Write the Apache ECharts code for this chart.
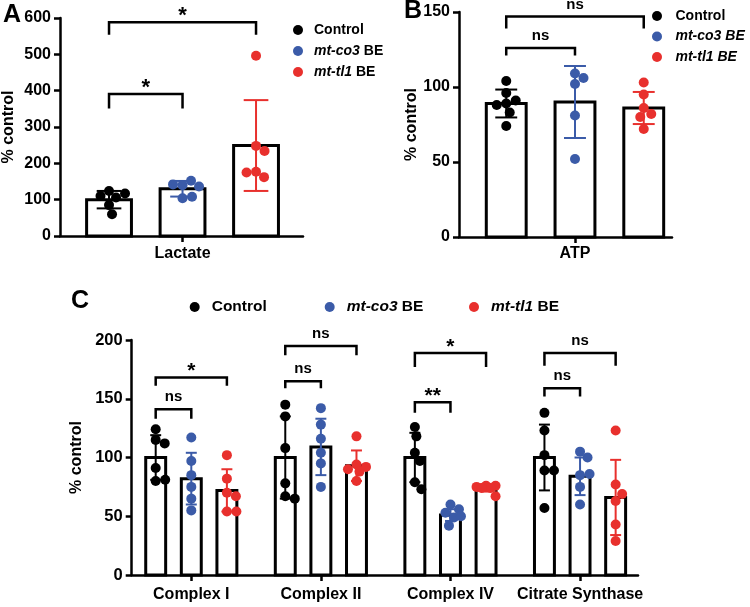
<!DOCTYPE html>
<html>
<head>
<meta charset="utf-8">
<script src="https://cdn.jsdelivr.net/npm/echarts@6/dist/echarts.min.js"></script>
<style>html,body{margin:0;padding:0;background:#fff;}#chart{width:750px;height:607px;}</style>
</head>
<body>
<div id="chart"></div>
<script>
// ---------------- data ----------------
const groupNames = ['Control', 'mt-co3 BE', 'mt-tl1 BE'];

// Panel A
const lactateCategories = ['Lactate'];
const lactateMeans = [[100], [130], [249]];
const lactateSD = [[24], [21.5], [125]];
const lactatePoints = [
  [[124, 106, 110, 117, 85, 60]],
  [[140, 152, 142, 136, 104, 108]],
  [[248, 234, 177, 162, 175, 496]]
];
// [categoryIndex, fromGroup, toGroup, top, bottom, label]
const lactateBrackets = [[0, 0, 2, 588, 554, '*'], [0, 0, 1, 391, 351, '*']];
const lactateTicks = [0, 100, 200, 300, 400, 500, 600];

// Panel B
const atpCategories = ['ATP'];
const atpMeans = [[89], [90], [86]];
const atpSD = [[9.3], [24], [10.7]];
const atpPoints = [
  [[104, 96, 89, 91, 88, 83, 74]],
  [[109, 106, 102, 81, 52]],
  [[103, 95, 86, 82, 80, 72]]
];
const atpBrackets = [[0, 0, 2, 147, 139, 'ns'], [0, 0, 1, 126, 121, 'ns']];
const atpTicks = [0, 50, 100, 150];

// Panel C
const enzymeCategories = ['Complex I', 'Complex II', 'Complex IV', 'Citrate Synthase'];
const enzymeMeans = [[100, 100, 100, 100], [82, 109, 51, 84], [72, 93, 74, 66]];
const enzymeSD = [[19, 35, 21, 28], [22, 24, 5, 16], [18, 13, 3, 32]];
const enzymePoints = [
  [[124, 115, 112, 91, 80, 81], [145, 135, 108, 78, 67, 65], [126, 118, 104, 97, 79, 73], [138, 123, 102, 89, 89, 57]],
  [[117, 97, 85, 75, 65, 55], [142, 128, 116, 104, 95, 75], [60, 56, 53, 49, 50, 42], [105, 100, 85, 86, 75, 60]],
  [[102, 82, 70, 67, 54, 54], [118, 94, 92, 90, 88, 80], [76, 76, 75, 74, 74, 67], [123, 77, 63, 69, 43, 29]]
];
const enzymeBrackets = [
  [0, 0, 1, 141, 133, 'ns'], [0, 0, 2, 168, 161, '*'],
  [1, 0, 1, 165, 159, 'ns'], [1, 0, 2, 195, 187, 'ns'],
  [2, 0, 1, 147, 138, '**'], [2, 0, 2, 189, 177, '*'],
  [3, 0, 1, 159, 152, 'ns'], [3, 0, 2, 189, 178, 'ns']
];
const enzymeTicks = [0, 50, 100, 150, 200];

// ---------------- styling / layout ----------------
const FONT = '"Liberation Sans", Arial, Helvetica, sans-serif';
const COLORS = ['#000000', '#3b5ba8', '#e8302d'];

const panels = [
  { cats: lactateCategories, means: lactateMeans, sd: lactateSD, pts: lactatePoints, brackets: lactateBrackets, ticks: lactateTicks,
    grid: { left: 60, top: 18, width: 243, height: 218 }, xMin: -1.667, xMax: 1.639, catSpacing: 1, barW: 0.61,
    tickFont: 16, nameGap: 43, labelMargin: 10, starSize: 22 },
  { cats: atpCategories, means: atpMeans, sd: atpSD, pts: atpPoints, brackets: atpBrackets, ticks: atpTicks,
    grid: { left: 459, top: 12, width: 213, height: 225 }, xMin: -1.687, xMax: 1.411, catSpacing: 1, barW: 0.58,
    tickFont: 16, nameGap: 37, labelMargin: 9, starSize: 22 },
  { cats: enzymeCategories, means: enzymeMeans, sd: enzymeSD, pts: enzymePoints, brackets: enzymeBrackets, ticks: enzymeTicks,
    grid: { left: 131.7, top: 340, width: 506.3, height: 235 }, xMin: -1.674, xMax: 12.548, catSpacing: 3.64, barW: 0.56,
    tickFont: 16.5, nameGap: 46, labelMargin: 12, starSize: 21 }
];

const R = 5;

function swarm(ys, r, maxOff) {
  const minD = 2 * r * 0.95;
  const placed = [];
  return ys.map(function (y) {
    let best = 0, bestScore = -1;
    for (let d = 0; d <= maxOff; d += 0.5) {
      const cands = d === 0 ? [0] : [d, -d];
      for (const s of cands) {
        let mind = Infinity;
        for (const p of placed) {
          const dd = Math.hypot(p[0] - s, p[1] - y);
          if (dd < mind) mind = dd;
        }
        if (mind >= minD) { placed.push([s, y]); return s; }
        if (mind > bestScore) { bestScore = mind; best = s; }
      }
    }
    placed.push([best, y]);
    return best;
  });
}

const grids = [], xAxes = [], yAxes = [], series = [];

panels.forEach(function (P, pi) {
  grids.push(Object.assign({ containLabel: false }, P.grid));
  const centers = P.cats.map(function (c, ci) { return ci * P.catSpacing; });
  xAxes.push({
    type: 'value', gridIndex: pi, min: P.xMin, max: P.xMax,
    axisLine: { show: true, onZero: false, lineStyle: { color: '#000', width: 2.5 } },
    axisTick: { show: true, customValues: centers, length: 6, lineStyle: { color: '#000', width: 2.5 } },
    axisLabel: {
      show: true, customValues: centers, margin: P.labelMargin, color: '#000',
      fontWeight: 'bold', fontSize: 16, fontFamily: FONT,
      formatter: function (v) { return P.cats[Math.round(v / P.catSpacing)]; }
    },
    splitLine: { show: false }
  });
  const yMax = P.ticks[P.ticks.length - 1];
  yAxes.push({
    type: 'value', gridIndex: pi, min: P.ticks[0], max: yMax, interval: P.ticks[1] - P.ticks[0],
    axisLine: { show: true, onZero: false, lineStyle: { color: '#000', width: 2.5 } },
    axisTick: { show: true, length: 6, lineStyle: { color: '#000', width: 2.5 } },
    axisLabel: { color: '#000', fontWeight: 'bold', fontSize: P.tickFont, fontFamily: FONT, margin: 9 },
    splitLine: { show: false },
    name: '% control', nameLocation: 'middle', nameGap: P.nameGap,
    nameTextStyle: { color: '#000', fontWeight: 'bold', fontSize: 16, fontFamily: FONT }
  });

  groupNames.forEach(function (gName, gi) {
    const data = P.cats.map(function (c, ci) {
      return [centers[ci] + (gi - 1), P.means[gi][ci], P.sd[gi][ci]];
    });
    // bars + error bars
    series.push({
      type: 'custom', name: gName, xAxisIndex: pi, yAxisIndex: pi, z: 2,
      itemStyle: { color: COLORS[gi] }, data: data, clip: false,
      renderItem: function (params, api) {
        const x = api.value(0), m = api.value(1), s = api.value(2);
        const tl = api.coord([x - P.barW / 2, m]);
        const br = api.coord([x + P.barW / 2, 0]);
        const c = api.coord([x, m]);
        const top = api.coord([x, m + s]);
        const bot = api.coord([x, Math.max(0, m - s)]);
        const capHalf = api.size([P.barW * 0.55, 0])[0] / 2;
        return {
          type: 'group', children: [
            { type: 'rect', shape: { x: tl[0], y: tl[1], width: br[0] - tl[0], height: br[1] - tl[1] },
              style: { fill: '#fff', stroke: '#000', lineWidth: 3 } },
            { type: 'line', shape: { x1: c[0], y1: top[1], x2: c[0], y2: bot[1] }, style: { stroke: COLORS[gi], lineWidth: 2 } },
            { type: 'line', shape: { x1: c[0] - capHalf, y1: top[1], x2: c[0] + capHalf, y2: top[1] }, style: { stroke: COLORS[gi], lineWidth: 2 } },
            { type: 'line', shape: { x1: c[0] - capHalf, y1: bot[1], x2: c[0] + capHalf, y2: bot[1] }, style: { stroke: COLORS[gi], lineWidth: 2 } }
          ]
        };
      }
    });
  });
  groupNames.forEach(function (gName, gi) {
    const data = P.cats.map(function (c, ci) { return [centers[ci] + (gi - 1), P.means[gi][ci]]; });
    series.push({
      type: 'custom', name: gName, xAxisIndex: pi, yAxisIndex: pi, z: 3,
      itemStyle: { color: COLORS[gi] }, data: data, clip: false,
      renderItem: function (params, api) {
        const x = api.value(0);
        const vals = P.pts[gi][params.dataIndex];
        const cx = api.coord([x, 0])[0];
        const ys = vals.map(function (v) { return api.coord([x, v])[1]; });
        const maxOff = api.size([P.barW, 0])[0] * 0.55;
        const offs = swarm(ys, R, maxOff);
        return {
          type: 'group',
          children: ys.map(function (y, k) {
            return { type: 'circle', shape: { cx: cx + offs[k], cy: y, r: R }, style: { fill: COLORS[gi] } };
          })
        };
      }
    });
  });
  // brackets
  series.push({
    type: 'custom', xAxisIndex: pi, yAxisIndex: pi, z: 4, clip: false,
    data: P.brackets.map(function (b) {
      return [centers[b[0]] + b[1] - 1, centers[b[0]] + b[2] - 1, b[3], b[4]];
    }),
    renderItem: function (params, api) {
      const b = P.brackets[params.dataIndex];
      const p1 = api.coord([api.value(0), api.value(3)]);
      const p2 = api.coord([api.value(0), api.value(2)]);
      const p3 = api.coord([api.value(1), api.value(2)]);
      const p4 = api.coord([api.value(1), api.value(3)]);
      const isStar = b[5].indexOf('*') >= 0;
      return {
        type: 'group', children: [
          { type: 'polyline', shape: { points: [p1, p2, p3, p4] }, style: { stroke: '#000', lineWidth: 2.5, fill: null } },
          { type: 'text', x: (p2[0] + p3[0]) / 2, y: p2[1] - (isStar ? 6 : 12),
            style: { text: b[5], fill: '#000', fontWeight: 'bold', fontFamily: FONT,
              fontSize: isStar ? P.starSize : 15, align: 'center', verticalAlign: 'middle' } }
        ]
      };
    }
  });
});

function legendRich(size) {
  return {
    b: { fontWeight: 'bold', fontSize: size, fontFamily: FONT, color: '#000' },
    i: { fontWeight: 'bold', fontStyle: 'italic', fontSize: size, fontFamily: FONT, color: '#000' }
  };
}
function fmtSplit(name) {
  const parts = name.split(' ');
  if (parts.length === 1) return '{b|' + name + '}';
  return '{i|' + parts[0] + '}{b| ' + parts.slice(1).join(' ') + '}';
}
function fmtItalic(name) {
  if (name === 'Control') return '{b|Control}';
  return '{i|' + name + '}';
}

const legends = [
  { data: groupNames, orient: 'vertical', left: 288, top: 18, itemGap: 7, itemWidth: 22, itemHeight: 10, icon: 'circle',
    selectedMode: false, formatter: fmtSplit, textStyle: { fontSize: 14, fontWeight: 'bold', fontFamily: FONT, color: '#000', rich: legendRich(14) } },
  { data: groupNames, orient: 'vertical', left: 647, top: 4, itemGap: 6.5, itemWidth: 27, itemHeight: 10, icon: 'circle',
    selectedMode: false, formatter: fmtItalic, textStyle: { fontSize: 14, fontWeight: 'bold', fontFamily: FONT, color: '#000', rich: legendRich(14) } }
];
const cLegLeft = [184.7, 319.7, 464];
groupNames.forEach(function (n, gi) {
  legends.push({ data: [n], orient: 'horizontal', left: cLegLeft[gi], top: 294, itemWidth: 24, itemHeight: 10, icon: 'circle',
    selectedMode: false, formatter: fmtSplit, textStyle: { fontSize: 15.5, fontWeight: 'bold', fontFamily: FONT, color: '#000', rich: legendRich(15.5) } });
});

const chart = echarts.init(document.getElementById('chart'), null, { renderer: 'canvas' });
chart.setOption({
  backgroundColor: '#fff',
  animation: false,
  grid: grids, xAxis: xAxes, yAxis: yAxes, series: series, legend: legends,
  graphic: [
    { type: 'text', left: 3, top: 3, style: { text: 'A', fontSize: 25, fontWeight: 'bold', fontFamily: FONT, fill: '#000' } },
    { type: 'text', left: 404, top: -1, style: { text: 'B', fontSize: 25, fontWeight: 'bold', fontFamily: FONT, fill: '#000' } },
    { type: 'text', left: 71, top: 289, style: { text: 'C', fontSize: 25, fontWeight: 'bold', fontFamily: FONT, fill: '#000' } }
  ]
});
</script>
</body>
</html>
